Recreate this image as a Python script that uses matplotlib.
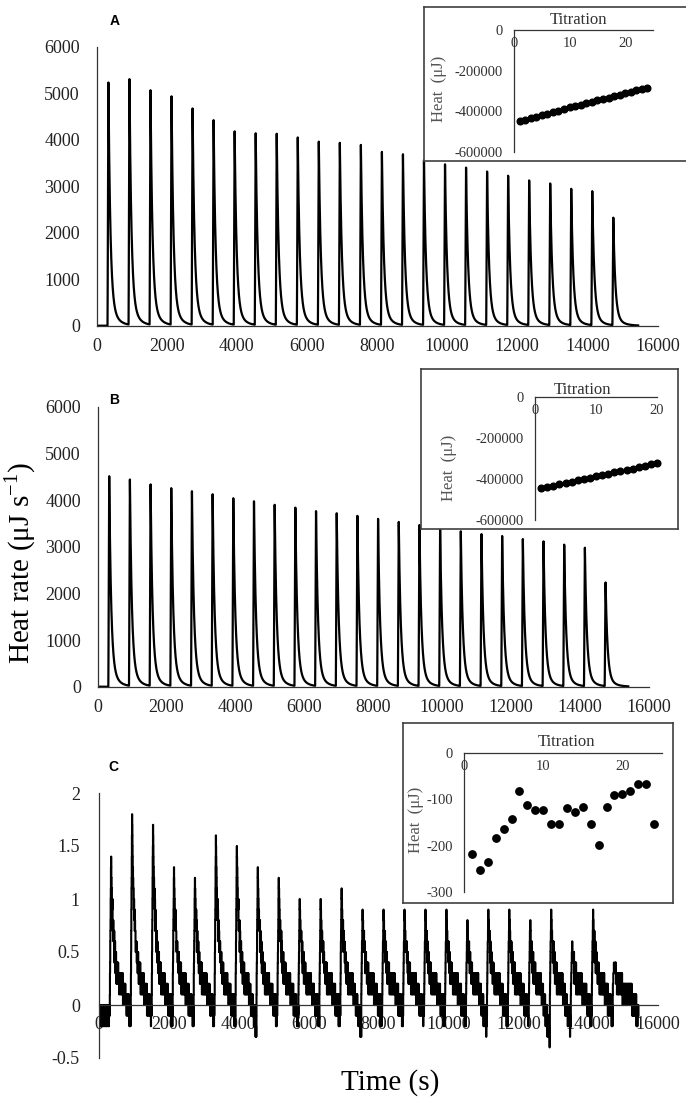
import numpy as np
import matplotlib
matplotlib.use("Agg")
import matplotlib.pyplot as plt
from matplotlib.ticker import FuncFormatter

plt.rcParams['font.family'] = ['Liberation Serif', 'DejaVu Serif']
plt.rcParams['mathtext.fontset'] = 'custom'
plt.rcParams['mathtext.rm'] = 'Liberation Serif'
plt.rcParams['axes.unicode_minus'] = False

# ========================
# DATA
# ========================

# injection peaks, same timing in all three runs (s)
peak_times = [340 + 600 * k for k in range(25)]

heights_a = [5230, 5280, 5040, 4910, 4650, 4400, 4160, 4120, 4110, 4030,
             3940, 3915, 3870, 3720, 3670, 3540, 3455, 3385, 3300, 3210,
             3110, 3045, 2930, 2880, 2310]
heights_b = [4510, 4420, 4315, 4235, 4170, 4105, 4020, 3955, 3880, 3820,
             3745, 3700, 3645, 3580, 3515, 3450, 3400, 3315, 3255, 3215,
             3150, 3100, 3030, 2965, 2220]
heights_c = [1.4, 1.8, 1.7, 1.3, 1.2, 1.6, 1.5, 1.3, 1.2, 1.0,
             1.0, 1.1, 0.9, 0.9, 0.9, 0.9, 0.9, 0.8, 0.9, 0.9,
             0.8, 0.9, 0.6, 0.9, 0.4]
# lowest level the baseline of run C reaches before the next injection
dips_c = [-0.1, -0.1, -0.1, -0.1, -0.1, -0.1, -0.2, -0.1, -0.1, -0.1,
          -0.1, -0.2, -0.1, -0.1, -0.1, -0.1, -0.1, -0.2, -0.1, -0.1,
          -0.3, -0.2, -0.1, -0.1, -0.1]
# digitiser jitter of run C, in steps of 0.1
jitter_c = [0, 1, 0, 1, 0, -1, 0, 0, 1, 1, 0, 1, -1, 0, 0, 1, 0, 0, -1, 1,
            0, 1, 1, 0, -1, 0, 0, 1, 0, -1, 1, 0, 0, 0, 1, -1, 0, 1, 0, 0,
            1, 0, -1, -1, 0, 1, 0, 1, 0, 0, -1, 0, 1, 0, 1, 1, -1, 0, 0, 1,
            0, 0, 1, 0, -1, 0, 1, 0, 0, -1, 1, 1, 0]

titration_a = list(range(1, 25))
heat_a = [-446000, -441000, -433000, -426000, -418000, -411000, -403000,
          -396000, -389000, -381000, -374000, -367000, -360000, -353000,
          -346000, -339000, -332000, -325000, -318000, -311000, -304000,
          -297000, -290000, -283000]
titration_b = list(range(1, 21))
heat_b = [-445000, -439000, -432000, -426000, -420000, -413000, -407000,
          -400000, -394000, -387000, -381000, -375000, -368000, -362000,
          -355000, -349000, -342000, -336000, -329000, -323000]
titration_c = list(range(1, 25))
heat_c = [-219, -252, -235, -183, -163, -143, -83, -113, -123, -123,
          -153, -153, -118, -128, -116, -153, -198, -117, -91, -88,
          -83, -67, -67, -153]

xticks_main = list(range(0, 16001, 2000))
yticks_ab = list(range(0, 6001, 1000))
yticks_c = [-0.5, 0, 0.5, 1, 1.5, 2]
yticks_ins_ab = [0, -200000, -400000, -600000]
yticks_ins_c = [0, -100, -200, -300]
xticks_ins = [0, 10, 20]

# ========================
# TRACES
# ========================

def trace_ab(heights, t_end=15450):
    t = np.arange(0, t_end, 2.0)
    s = np.zeros_like(t)
    for tp, h in zip(peak_times, heights):
        dt = t - (tp - 25)
        up = (dt >= 0) & (dt < 25)
        s[up] += h * dt[up] / 25
        dn = dt >= 25
        d = dt[dn] - 25
        s[dn] += h * (0.88 * np.exp(-d / 55) + 0.12 * np.exp(-d / 180))
    return t, s

def trace_c(t_end=15440):
    step = 4.0
    t = np.arange(0, t_end, step)
    base = np.full_like(t, -0.1)
    inj = [tp - 36 for tp in peak_times] + [t_end]
    for k in range(25):
        m = (t >= inj[k]) & (t < inj[k + 1])
        frac = (t[m] - inj[k]) / (inj[k + 1] - inj[k])
        base[m] = 0.13 + (dips_c[k] - 0.13) * np.clip((frac - 0.6) / 0.4, 0, 1)
    s = base.copy()
    quiet = np.ones_like(t, dtype=bool)
    for tp, h in zip(peak_times, heights_c):
        amp = h - 0.13
        dt = t - (tp - 36)
        up = (dt >= 0) & (dt < 36)
        s[up] += amp * dt[up] / 36
        dn = dt >= 36
        d = dt[dn] - 36
        s[dn] += amp * (0.15 * np.exp(-d / 15) + 0.85 * np.exp(-d / 95))
        quiet &= ~((dt >= 0) & (dt < 70))
    j = np.array(jitter_c * (len(t) // len(jitter_c) + 1))[:len(t)] * 0.1
    s = s + j * quiet
    return t, np.round(s * 10) / 10

# ========================
# FIGURE
# ========================

W, H = 686, 1104
fig = plt.figure(figsize=(W / 100, H / 100), dpi=100)

def box(x0, y0, x1, y1):
    return [x0 / W, 1 - y1 / H, (x1 - x0) / W, (y1 - y0) / H]

def ftext(x, y, s, **kw):
    fig.text(x / W, 1 - y / H, s, ha='center', va='center', **kw)

spine_col = '#333333'

def style_main(ax):
    for side in ['top', 'right']:
        ax.spines[side].set_visible(False)
    for side in ['left', 'bottom']:
        ax.spines[side].set_color(spine_col)
        ax.spines[side].set_linewidth(0.9)
    ax.tick_params(length=0, labelsize=13, colors='#222222')
    ax.tick_params(axis='x', pad=9)
    ax.tick_params(axis='y', pad=12)
    ax.set_facecolor('none')

axA = fig.add_axes(box(96.5, 46.7, 657.5, 325.7))
t, s = trace_ab(heights_a)
axA.plot(t, s, color='black', lw=1.6)
axA.set_xlim(0, 16000)
axA.set_ylim(0, 6000)
axA.set_xticks(xticks_main)
axA.set_yticks(yticks_ab)
style_main(axA)

axB = fig.add_axes(box(97.5, 406.7, 649, 686.7))
t, s = trace_ab(heights_b, 15400)
axB.plot(t, s, color='black', lw=1.6)
axB.set_xlim(0, 16000)
axB.set_ylim(0, 6000)
axB.set_xticks(xticks_main)
axB.set_yticks(yticks_ab)
style_main(axB)

axC = fig.add_axes(box(99.2, 793, 658, 1058))
t, s = trace_c()
axC.plot(t, s, color='black', lw=1.5, drawstyle='steps-post')
axC.set_xlim(0, 16000)
axC.set_ylim(-0.5, 2)
axC.set_xticks(xticks_main)
axC.set_yticks(yticks_c)
axC.yaxis.set_major_formatter(FuncFormatter(lambda v, _: f'{v:g}'))
style_main(axC)
axC.spines['bottom'].set_position(('data', 0))
axC.tick_params(axis='x', pad=8)
axC.tick_params(axis='y', pad=14)

# panel letters
for (x, y, lab) in [(115, 21, 'A'), (114, 400, 'B'), (113, 767, 'C')]:
    ftext(x, y, lab, fontsize=10, fontweight='bold', family='Liberation Sans')

ftext(20, 563, 'Heat rate (\u03bcJ s$^{\\mathrm{-1}}$)', fontsize=21, rotation=90)
ftext(390, 1083, 'Time (s)', fontsize=21)

# ========================
# INSETS
# ========================

def inset(frame, inner, xs, ys, xmax, ymin, yticks, tit_xy, heat_xy, ms):
    fr = fig.add_axes(box(*frame), zorder=3)
    fr.set_xticks([])
    fr.set_yticks([])
    fr.set_facecolor('white')
    for sp in fr.spines.values():
        sp.set_color('#404040')
        sp.set_linewidth(1.2)
    ax = fig.add_axes(box(*inner), zorder=4)
    ax.set_facecolor('none')
    ax.plot(xs, ys, 'o', color='black', ms=ms, clip_on=False)
    ax.set_xlim(0, xmax)
    ax.set_ylim(ymin, 0)
    ax.set_xticks(xticks_ins)
    ax.set_yticks(yticks)
    ax.spines['top'].set_visible(False)
    ax.spines['right'].set_visible(False)
    ax.spines['bottom'].set_position(('data', 0))
    for side in ['left', 'bottom']:
        ax.spines[side].set_color(spine_col)
        ax.spines[side].set_linewidth(0.9)
    ax.tick_params(length=0, labelsize=10.5, colors='#333333')
    ax.tick_params(axis='x', pad=5)
    ax.tick_params(axis='y', pad=8)
    fig.text(tit_xy[0] / W, 1 - tit_xy[1] / H, 'Titration', ha='center',
             va='center', fontsize=12, color='#333333', zorder=5)
    fig.text(heat_xy[0] / W, 1 - heat_xy[1] / H, 'Heat  (\u03bcJ)', ha='center',
             va='center', fontsize=12, color='#555555', rotation=90, zorder=5)
    return ax

inset((424, 7, 692, 161), (514, 30, 653, 152), titration_a, heat_a, 25,
      -600000, yticks_ins_ab, (578, 20), (439, 89), 4.8)
inset((421, 369, 678, 529), (535, 397, 657, 520), titration_b, heat_b, 20,
      -600000, yticks_ins_ab, (583, 390), (449, 468), 4.8)
inset((403, 723, 673, 903), (464, 753, 662, 892), titration_c, heat_c, 25,
      -300, yticks_ins_c, (567, 742), (416, 820), 5.3)

fig.savefig('out.png', dpi=100)
